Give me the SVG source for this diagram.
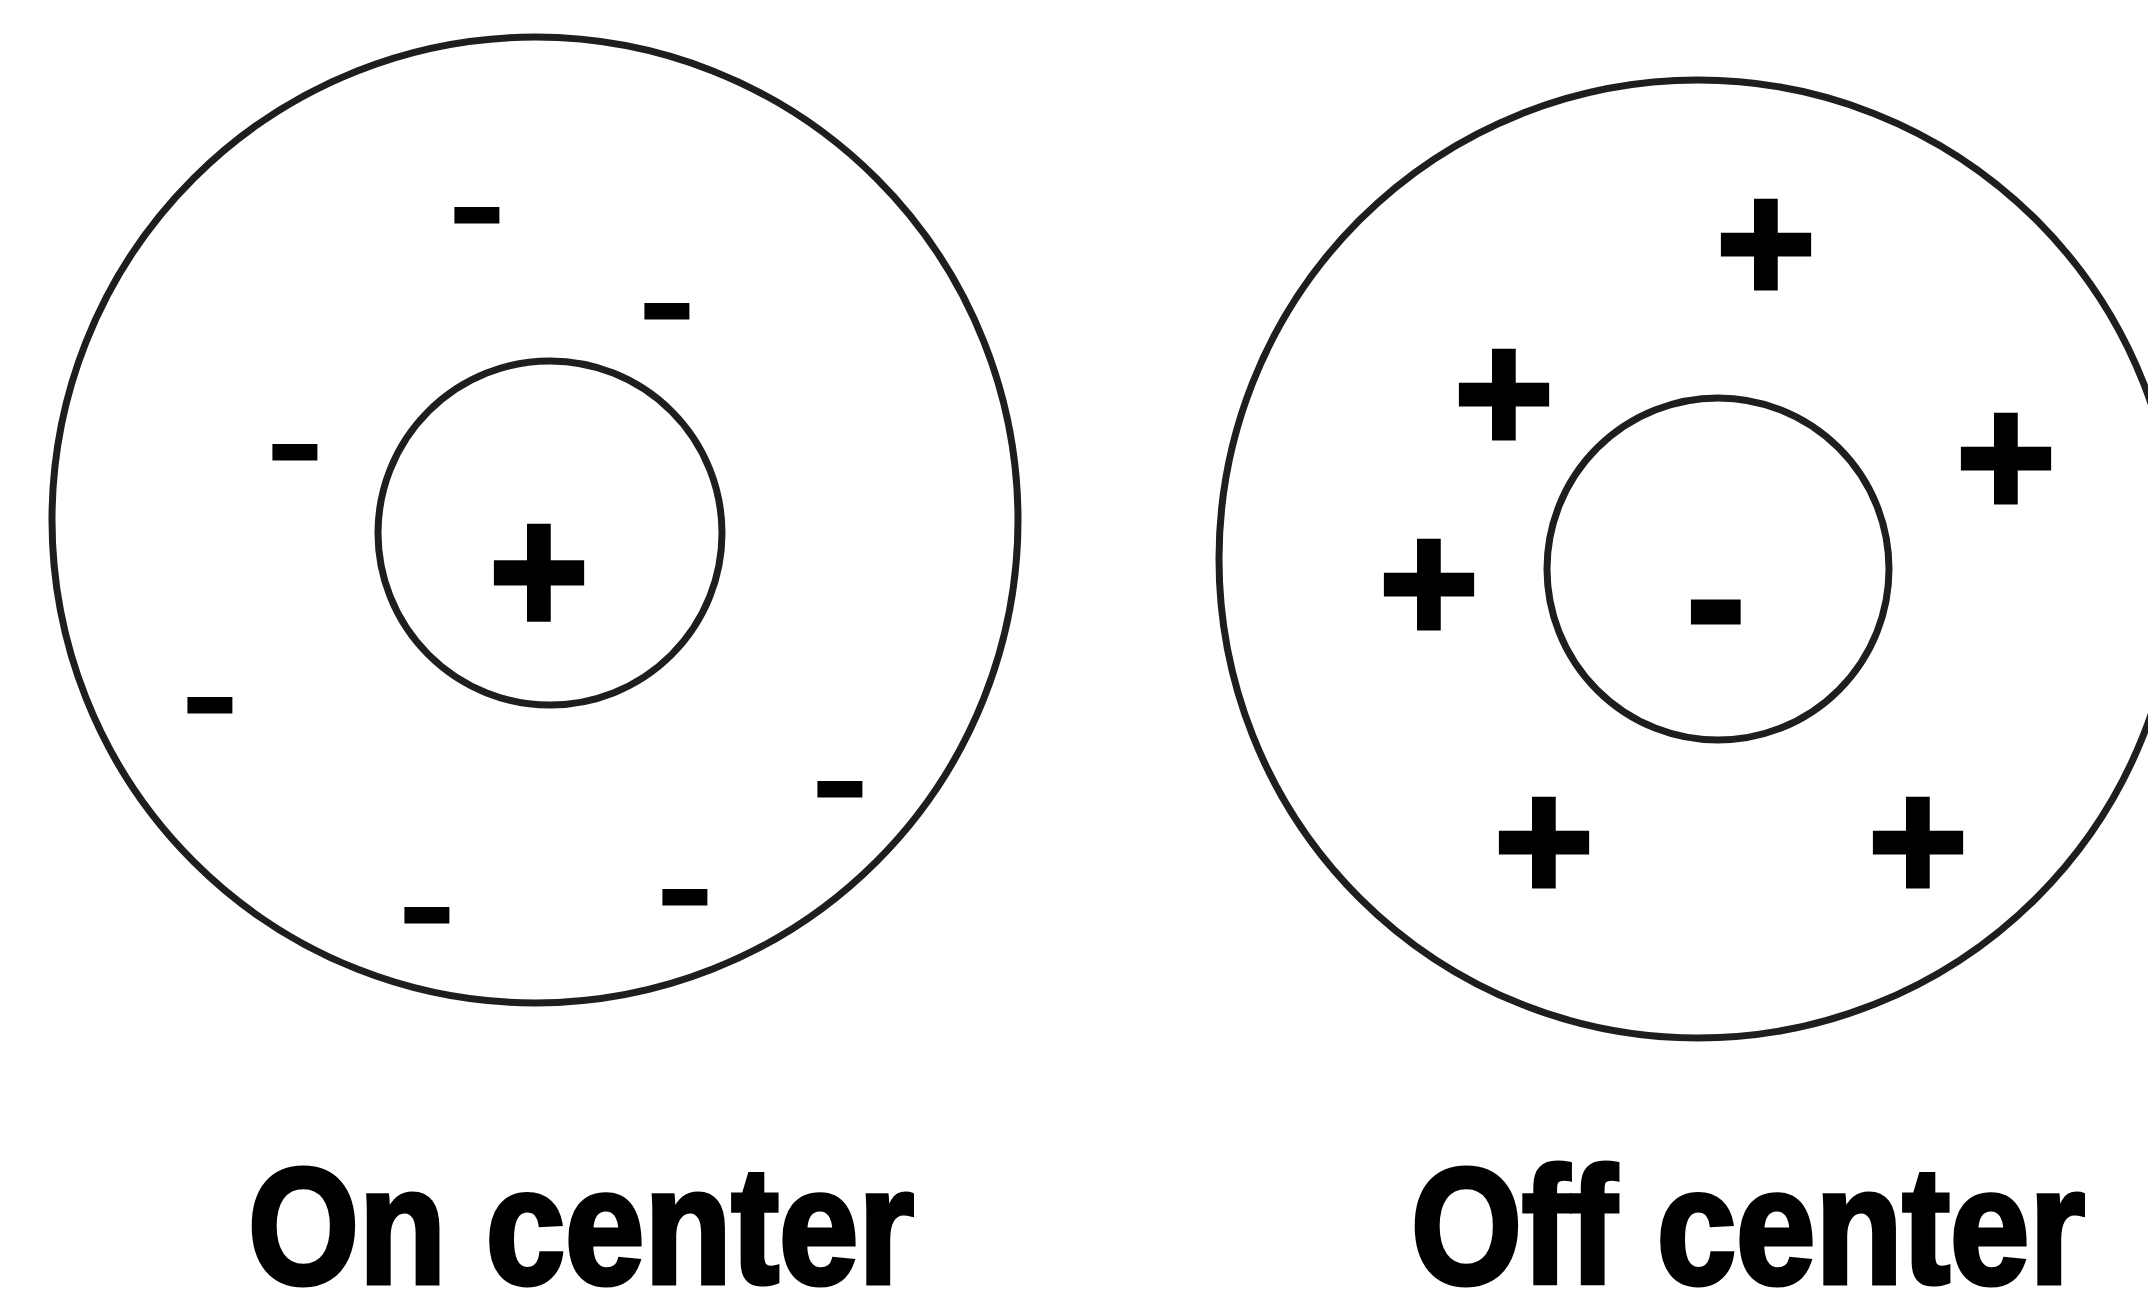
<svg xmlns="http://www.w3.org/2000/svg" width="2148" height="1293" viewBox="0 0 2148 1293">
<style>
.ring{fill:none;stroke:#1e1e1e;stroke-width:7}
.plus{font-family:"Liberation Sans",Arial,sans-serif;font-weight:bold;font-size:170px;fill:#000;stroke:#000;stroke-width:5;text-anchor:middle}
.minus{font-family:"Liberation Sans",Arial,sans-serif;font-weight:normal;font-size:172px;fill:#000;stroke:#000;stroke-width:3;text-anchor:middle}
.minusb{font-family:"Liberation Sans",Arial,sans-serif;font-weight:bold;font-size:184px;fill:#000;stroke:#000;stroke-width:3;text-anchor:middle}
.label{font-family:"Liberation Sans",Arial,sans-serif;font-weight:bold;font-size:166px;fill:#000;stroke:#000;stroke-width:5}
</style>
<rect width="2148" height="1293" fill="#fff"/>
<g id="on-center">
  <g id="on-surround">
    <circle class="ring" cx="535" cy="520" r="483"/>
    <text class="minus" x="477" y="261">-</text>
    <text class="minus" x="667" y="357">-</text>
    <text class="minus" x="295" y="498">-</text>
    <text class="minus" x="210" y="751">-</text>
    <text class="minus" x="840" y="835">-</text>
    <text class="minus" x="685" y="943">-</text>
    <text class="minus" x="427" y="961">-</text>
  </g>
  <g id="on-centre-field">
    <circle class="ring" cx="550" cy="533" r="172"/>
    <text class="plus" transform="translate(539 633) scale(1 1.07)" y="0">+</text>
  </g>
  <text id="on-label" class="label" x="248" y="1283" textLength="666" lengthAdjust="spacingAndGlyphs">On center</text>
</g>
<g id="off-center">
  <g id="off-surround">
    <circle class="ring" cx="1698" cy="559" r="479"/>
    <text class="plus" x="1766" y="301">+</text>
    <text class="plus" x="1504" y="451">+</text>
    <text class="plus" x="2006" y="515">+</text>
    <text class="plus" x="1429" y="641">+</text>
    <text class="plus" x="1544" y="899">+</text>
    <text class="plus" x="1918" y="899">+</text>
  </g>
  <g id="off-centre-field">
    <circle class="ring" cx="1718" cy="569" r="171"/>
    <text class="minusb" x="1716" y="660">-</text>
  </g>
  <text id="off-label" class="label" x="1411" y="1283" textLength="674" lengthAdjust="spacingAndGlyphs">Off center</text>
</g>
</svg>
